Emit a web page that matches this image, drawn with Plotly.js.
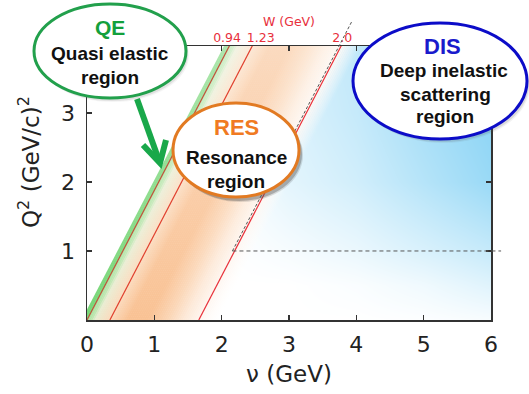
<!DOCTYPE html>
<html><head><meta charset="utf-8">
<script src="https://cdn.plot.ly/plotly-3.0.1.min.js"></script>
<style>html,body{margin:0;padding:0;background:#fff;} #chart{width:529px;height:394px;}</style>
</head><body><div id="chart"></div>
<script>
// ---------------- data ----------------
const xTicks = [0, 1, 2, 3, 4, 5, 6];
const yTicks = [1, 2, 3];
const wLabels = ['0.94', '1.23', '2.0'];          // W (GeV) of the constant-W lines
const wNuAtQ2Low = [0.0, 0.34, 1.66];             // ν (GeV) where each W line meets Q² = 0
const wNuAtQ2High = [2.13, 2.47, 3.79];           // ν (GeV) where each W line meets Q² = 4
const wQ2Ends = [0, 4];                           // Q² (GeV/c)² at the two ends above
const wLineColors = ['#c2503a', '#e0402e', '#e8303a'];
const wLabelNu = [2.08, 2.58, 3.79];              // ν where the W labels sit on the top edge
const dashSlantNu = [2.16, 3.93];                 // dashed W≈2 boundary
const dashSlantQ2 = [1.0, 4.32];
const dashFlatNu = [2.16, 6.15];                  // dashed Q² = 1 boundary
const dashFlatQ2 = [1.0, 1.0];
// DIS shading (0 = white, 1 = full sky blue) on a coarse grid
const disNu = [2, 3, 4, 5, 6];
const disQ2 = [0, 0.5, 1, 2, 3, 4];
const disLevel = [
  [0, 0.00, 0.00, 0.02, 0.06],
  [0, 0.00, 0.04, 0.12, 0.25],
  [0, 0.07, 0.16, 0.30, 0.45],
  [0, 0.22, 0.36, 0.58, 0.80],
  [0, 0.28, 0.45, 0.70, 0.90],
  [0, 0.30, 0.50, 0.75, 0.95]
];
// QE / RES band colour stops: ν offset from the W = 0.94 line, colour [r,g,b,a]
const bandOffset = [-0.08, 0.0, 0.0, 0.08, 0.11, 0.34, 0.6, 0.9, 1.2, 1.45, 1.66, 1.95];
const bandColor = [
  [118,214,118,1],[118,214,118,1],[168,226,158,1],[194,231,180,1],[232,237,210,1],
  [251,218,188,1],[249,194,148,1],[249,194,148,1],[251,214,182,1],[253,234,218,1],
  [254,245,238,1],[255,252,248,0]
];
// ------------------------------------------------------------

const Y_TOP = 3.97;
const L = 87, T = 46, PW = 404, PH = 274;
const pxX = p => (p - L) / PW;
const pxY = p => (T + PH - p) / PH;

function mix(a, b, t) { return a.map((v, i) => v + (b[i] - v) * t); }
function rgba(c) { return 'rgba(' + Math.round(c[0]) + ',' + Math.round(c[1]) + ',' + Math.round(c[2]) + ',' + c[3].toFixed(3) + ')'; }

const traces = [];
// DIS blue shading
traces.push({type: 'heatmap', x: disNu, y: disQ2, z: disLevel, zsmooth: 'best', zmin: 0, zmax: 1,
  colorscale: [[0, '#ffffff'], [1, '#80d0f4']], showscale: false, hoverinfo: 'skip'});

// slanted QE/RES band made of thin strips parallel to the W lines
const slope = (wNuAtQ2High[0] - wNuAtQ2Low[0]) / (wQ2Ends[1] - wQ2Ends[0]);
const base = wNuAtQ2Low[0];
const qa = wQ2Ends[0], qb = wQ2Ends[1];
for (let i = 0; i < bandOffset.length - 1; i++) {
  const a = bandOffset[i], b = bandOffset[i + 1];
  if (b <= a) continue;
  const n = Math.max(1, Math.round((b - a) / 0.03));
  const last = (i === bandOffset.length - 2);
  for (let k = 0; k < n; k++) {
    const o0 = a + (b - a) * k / n;
    const o1 = a + (b - a) * (k + 1) / n + (last ? 0.0 : 0.008);
    const c = mix(bandColor[i], bandColor[i + 1], (k + 0.5) / n);
    const cTop = mix(c, [255, 255, 255, c[3]], 0.4);
    traces.push({type: 'scatter', mode: 'lines',
      x: [base + o0 + slope * qa, base + o1 + slope * qa, base + o1 + slope * qb, base + o0 + slope * qb, base + o0 + slope * qa],
      y: [qa, qa, qb, qb, qa],
      fill: 'toself', line: {width: 0}, fillcolor: rgba(c),
      fillgradient: {type: 'vertical', colorscale: [[0, rgba(c)], [1, rgba(cTop)]]},
      hoverinfo: 'skip', showlegend: false});
  }
}
// constant-W lines (on the top W axis, which shares the ν scale)
for (let i = 0; i < wLabels.length; i++) {
  traces.push({type: 'scatter', mode: 'lines', xaxis: 'x2', yaxis: 'y',
    x: [wNuAtQ2Low[i], wNuAtQ2High[i]], y: wQ2Ends,
    line: {color: wLineColors[i], width: 1.2}, hoverinfo: 'skip', showlegend: false, name: 'W = ' + wLabels[i]});
}

const shapes = [];
// dashed boundaries
shapes.push({type: 'line', xref: 'x', yref: 'paper', layer: 'above',
  x0: dashSlantNu[0], x1: dashSlantNu[1], y0: dashSlantQ2[0] / Y_TOP, y1: dashSlantQ2[1] / Y_TOP,
  line: {color: '#555', width: 1, dash: '3px,2px'}});
shapes.push({type: 'line', xref: 'paper', yref: 'y', layer: 'above',
  x0: dashFlatNu[0] / 6, x1: dashFlatNu[1] / 6, y0: dashFlatQ2[0], y1: dashFlatQ2[1],
  line: {color: '#555', width: 1, dash: '4px,3px'}});

// green arrow
const arrowCol = '#19a84a';
shapes.push({type: 'line', xref: 'paper', yref: 'paper', layer: 'above',
  x0: pxX(137), y0: pxY(99), x1: pxX(158.5), y1: pxY(159), line: {color: arrowCol, width: 6}});
shapes.push({type: 'path', xref: 'paper', yref: 'paper', layer: 'above',
  path: 'M' + pxX(143) + ',' + pxY(145) + ' L' + pxX(160) + ',' + pxY(163) + ' L' + pxX(166) + ',' + pxY(140),
  line: {color: arrowCol, width: 6}});

function ellipse(cx, cy, rx, ry, col, shadowA, sdx, sdy) {
  if (shadowA > 0) {
    shapes.push({type: 'circle', xref: 'paper', yref: 'paper', layer: 'above',
      x0: pxX(cx - rx + sdx + 1), x1: pxX(cx + rx + sdx + 1), y0: pxY(cy + ry + sdy + 1), y1: pxY(cy - ry + sdy + 1),
      fillcolor: 'rgba(80,80,80,' + (shadowA * 0.5) + ')', line: {width: 0}});
    shapes.push({type: 'circle', xref: 'paper', yref: 'paper', layer: 'above',
      x0: pxX(cx - rx + sdx), x1: pxX(cx + rx + sdx), y0: pxY(cy + ry + sdy), y1: pxY(cy - ry + sdy),
      fillcolor: 'rgba(80,80,80,' + shadowA + ')', line: {width: 0}});
  }
  shapes.push({type: 'circle', xref: 'paper', yref: 'paper', layer: 'above',
    x0: pxX(cx - rx), x1: pxX(cx + rx), y0: pxY(cy + ry), y1: pxY(cy - ry),
    fillcolor: '#ffffff', line: {color: col, width: 3}});
}
ellipse(110, 51, 76, 47, '#22a04c', 0.12, 2, 3);
ellipse(236, 150, 63, 47, '#e27a22', 0.35, 3, 4);
ellipse(440, 81, 87, 58, '#0c0cc8', 0.15, 2, 3);

const annotations = [];
function label(text, x, y, size, color) {
  annotations.push({xref: 'paper', yref: 'paper', x: pxX(x), y: pxY(y), xanchor: 'center', yanchor: 'middle',
    text: '<b>' + text + '</b>', showarrow: false,
    font: {family: 'Liberation Sans, Arial, sans-serif', size: size, color: color}});
}
label('QE', 110, 27, 21, '#13a03c');
label('Quasi elastic', 110, 53, 19, '#111');
label('region', 110, 77, 19, '#111');
label('RES', 236, 128, 22, '#f07a22');
label('Resonance', 236, 157, 19, '#111');
label('region', 236, 181, 19, '#111');
label('DIS', 442, 46, 22, '#1a1acc');
label('Deep inelastic', 444, 70, 19, '#111');
label('scattering', 445, 94, 19, '#111');
label('region', 445, 117, 19, '#111');
// y axis title
annotations.push({xref: 'paper', yref: 'paper', x: pxX(29), y: pxY(162), xanchor: 'center', yanchor: 'middle',
  text: 'Q<sup>2</sup> (GeV/c)<sup>2</sup>', textangle: -90, showarrow: false,
  font: {family: 'DejaVu Sans', size: 23, color: '#222'}});

const axisCommon = {showgrid: false, zeroline: false, showline: true, linecolor: '#333', linewidth: 1.5,
  mirror: 'ticks', ticks: 'inside', ticklen: 5, tickwidth: 1.5, tickcolor: '#333', fixedrange: true,
  tickfont: {family: 'DejaVu Sans', size: 22, color: '#222'}};

const layout = {
  width: 529, height: 394,
  margin: {l: L, r: 529 - L - PW, t: T, b: 394 - T - PH, pad: 0},
  paper_bgcolor: '#fff', plot_bgcolor: '#fff', showlegend: false,
  xaxis: Object.assign({}, axisCommon, {range: [0, 6], tickmode: 'array', tickvals: xTicks,
    ticklabelstandoff: 4,
    title: {text: 'ν (GeV)', font: {family: 'DejaVu Sans', size: 23, color: '#222'}, standoff: 10}}),
  xaxis2: {overlaying: 'x', side: 'top', anchor: 'y', range: [0, 6], tickmode: 'array', tickvals: wLabelNu,
    ticktext: wLabels, ticks: '', showline: false, showgrid: false, zeroline: false, fixedrange: true,
    ticklabelstandoff: 1,
    tickfont: {family: 'DejaVu Sans', size: 12.5, color: '#e8303c'},
    title: {text: 'W (GeV)', font: {family: 'DejaVu Sans', size: 12.5, color: '#e8303c'}, standoff: 0}},
  yaxis: Object.assign({}, axisCommon, {range: [0, Y_TOP], tickmode: 'array', tickvals: yTicks,
    ticklabelstandoff: 6}),
  shapes: shapes,
  annotations: annotations
};

Plotly.newPlot('chart', traces, layout, {displayModeBar: false, staticPlot: true});
</script>
</body></html>
